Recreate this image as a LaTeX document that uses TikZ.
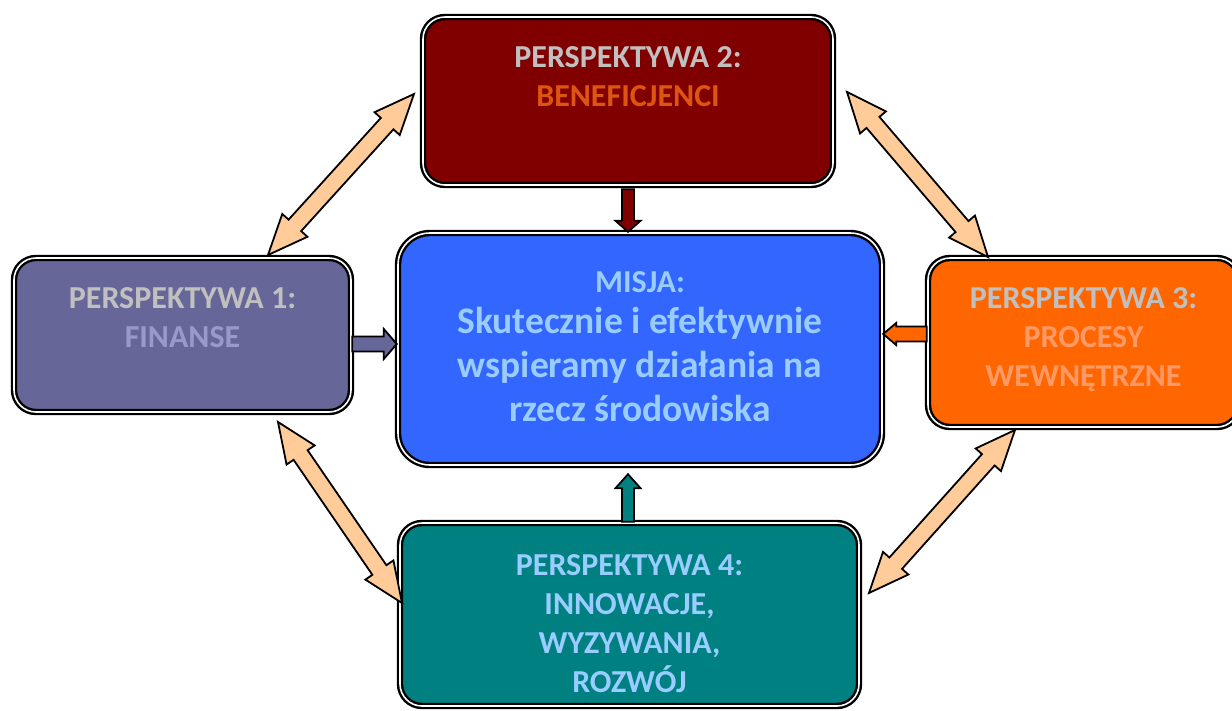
\documentclass[tikz,border=0pt]{standalone}
\usepackage{fontspec}
\setmainfont{Carlito}
\usetikzlibrary{calc,positioning}

\definecolor{misblue}{HTML}{3366FF}
\definecolor{finpurple}{HTML}{666699}
\definecolor{benred}{HTML}{800000}
\definecolor{procorange}{HTML}{FF6600}
\definecolor{innteal}{HTML}{008080}
\definecolor{peach}{HTML}{FFCC99}
\definecolor{lblgray}{HTML}{C0C0C0}
\definecolor{finlilac}{HTML}{9999CC}
\definecolor{benorange}{HTML}{DD5511}
\definecolor{proclight}{HTML}{FF9966}
\definecolor{skyblue}{HTML}{99CCFF}

% block arrow: colour, start, tip, half shaft, half head, head length
\newcommand\fatarrow[6]{%
  \coordinate (fn) at ($(#3)!#6!(#2)$);
  \draw[outl, fill=#1] ($(#2)!#4!90:(#3)$) -- ($(fn)!#4!90:(#3)$) -- ($(fn)!#5!90:(#3)$) -- (#3)
    -- ($(fn)!#5!-90:(#3)$) -- ($(fn)!#4!-90:(#3)$) -- ($(#2)!#4!-90:(#3)$) -- cycle;}
% two-headed arrow between two ends
\newcommand\twinarrow[2]{%
  \coordinate (tn1) at ($(#1)!40pt!(#2)$);
  \coordinate (tn2) at ($(#2)!40pt!(#1)$);
  \draw[outl, fill=peach] (#1) -- ($(tn1)!17pt!90:(#2)$) -- ($(tn1)!8.5pt!90:(#2)$)
    -- ($(tn2)!8.5pt!-90:(#1)$) -- ($(tn2)!17pt!-90:(#1)$) -- (#2)
    -- ($(tn2)!17pt!90:(#1)$) -- ($(tn2)!8.5pt!90:(#1)$)
    -- ($(tn1)!8.5pt!-90:(#2)$) -- ($(tn1)!17pt!-90:(#2)$) -- cycle;}

\begin{document}
\begin{tikzpicture}[x=1pt,y=-1pt,
  box/.style={draw=black, line width=2.4pt, double=white, double distance=1.6pt, rounded corners=22pt, inner sep=0pt},
  lbl/.style={align=center, inner sep=0pt, font=\bfseries\fontsize{32}{39}\selectfont},
  body/.style={align=center, inner sep=0pt, font=\bfseries\fontsize{37.5}{44}\selectfont, text=skyblue},
  outl/.style={draw=black, line width=1.8pt, line join=miter}]
\useasboundingbox (0,0) rectangle (1232,710);
\clip (0,0) rectangle (1232,710);

\node (mis) at (640,349) [box, fill=misblue, minimum width=484pt, minimum height=232pt, rounded corners=32pt] {};
\node (p1) at (182.5,335) [box, fill=finpurple, minimum width=337pt, minimum height=154pt] {};
\node (p2) at (628,101) [box, fill=benred, minimum width=410pt, minimum height=168pt] {};
\node (p3) at (1083.5,342.5) [box, fill=procorange, minimum width=311pt, minimum height=169pt] {};
\node (p4) at (629.5,614.5) [box, fill=innteal, minimum width=459pt, minimum height=183pt] {};

\node (t1) [lbl, below=31pt of p1.north] {\textcolor{lblgray}{PERSPEKTYWA 1:}\\\textcolor{finlilac}{FINANSE}};
\node (t2) [lbl, below=31pt of p2.north] {\textcolor{lblgray}{PERSPEKTYWA 2:}\\\textcolor{benorange}{BENEFICJENCI}};
\node (t3) [lbl, below=31pt of p3.north] {\textcolor{lblgray}{PERSPEKTYWA 3:}\\\textcolor{proclight}{PROCESY}\\\textcolor{proclight}{WEWNĘTRZNE}};
\node (t4) [lbl, below=33pt of p4.north, text=skyblue] {PERSPEKTYWA 4:\\INNOWACJE,\\WYZYWANIA,\\ROZWÓJ};
\node (tm) [lbl, below=40pt of mis.north, text=skyblue] {MISJA:};
\node (tb) [body, below=75pt of mis.north] {Skutecznie i efektywnie\\wspieramy działania na\\rzecz środowiska};

\coordinate (b1s) at ([yshift=-9pt]p1.east);
\coordinate (b1t) at (b1s -| mis.west);
\coordinate (b2s) at ([yshift=-3pt]p2.south);
\coordinate (b2t) at (b2s |- mis.north);
\coordinate (b3s) at ([yshift=8.5pt]p3.west);
\coordinate (b3t) at (b3s -| mis.east);
\coordinate (b4s) at ([xshift=-1.5pt]p4.north);
\coordinate (b4t) at ([yshift=-8pt]b4s |- mis.south);
\fatarrow{finpurple}{b1s}{b1t}{7.5pt}{15pt}{13pt}
\fatarrow{benred}{b2s}{b2t}{6pt}{12.5pt}{11pt}
\fatarrow{procorange}{b3s}{b3t}{7.5pt}{11pt}{13pt}
\fatarrow{innteal}{b4s}{b4t}{6pt}{12.5pt}{14pt}

\coordinate (d12a) at (414,94);
\coordinate (d12b) at (268,255);
\coordinate (d23a) at (847,92);
\coordinate (d23b) at (988,257);
\coordinate (d14a) at (278,422);
\coordinate (d14b) at (402,603);
\coordinate (d34a) at (1015,430);
\coordinate (d34b) at (869,593);
\twinarrow{d12a}{d12b}
\twinarrow{d23a}{d23b}
\twinarrow{d14a}{d14b}
\twinarrow{d34a}{d34b}
\end{tikzpicture}
\end{document}
